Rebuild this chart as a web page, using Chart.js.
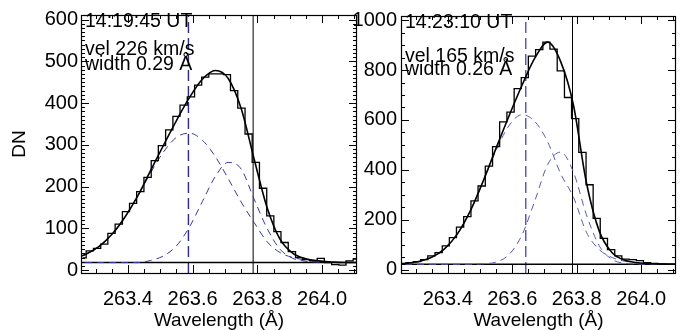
<!DOCTYPE html>
<html>
<head>
<meta charset="utf-8">
<script src="https://cdn.jsdelivr.net/npm/chart.js@4.4.0/dist/chart.umd.min.js"></script>
<style>
  body { margin: 0; background: #fff; }
  #wrap { position: relative; width: 686px; height: 330px; overflow: hidden; }
  canvas { position: absolute; top: 0; }
</style>
</head>
<body>
<div id="wrap">
  <canvas id="panelA" width="362" height="330" style="left:0px"></canvas>
  <canvas id="panelB" width="343" height="330" style="left:343px"></canvas>
</div>
<script>
// x range + labels shared by both panels
const xMin = 263.255, xMax = 264.108;
const xTickVals = [263.4, 263.6, 263.8, 264.0];

// bin centres of the observed spectrum
const binWave = [263.260, 263.282, 263.305, 263.327, 263.349, 263.372, 263.394, 263.416, 263.438, 263.461,
                 263.483, 263.505, 263.528, 263.550, 263.572, 263.595, 263.617, 263.639, 263.661, 263.684,
                 263.706, 263.728, 263.751, 263.773, 263.795, 263.818, 263.840, 263.862, 263.884, 263.907,
                 263.929, 263.951, 263.974, 263.996, 264.018, 264.041, 264.063, 264.085, 264.107];
// wavelengths where the fitted curves are sampled
const curveWave = [263.23, 263.27, 263.31, 263.35, 263.39, 263.43, 263.47, 263.51, 263.55, 263.59, 263.63, 263.67,
                   263.71, 263.75, 263.79, 263.83, 263.87, 263.91, 263.95, 263.99, 264.03, 264.07, 264.11];

// left panel, 14:19:45
const countsA = [29, 46, 52, 62, 88, 110, 140, 160, 188, 222, 262, 298, 336, 368, 395, 415, 443, 462, 470, 470,
                 468, 430, 388, 326, 258, 196, 130, 92, 66, 44, 30, 25, 22, 28, 18, 13, 12, 22, 26];
const fitA   = [27, 38, 56, 85, 126, 177, 238, 299, 358, 413, 457, 478, 459, 387, 266, 150, 74, 40, 27, 22, 19, 18, 18];
const comp1A = [27, 38, 56, 85, 126, 177, 233, 283, 318, 328, 311, 272, 219, 163, 114, 68, 42, 30, 24, 21, 19, 18, 18];
const comp2A = [18, 18, 18, 18, 18, 18, 23, 34, 58, 103, 164, 224, 258, 242, 170, 100, 50, 28, 21, 19, 18, 18, 18];
const levelA = 18;
const shiftA = 263.587;
const yTicksA = [0, 100, 200, 300, 400, 500, 600];
const notesA = ['14:19:45 UT', 'vel 226 km/s', 'width 0.29 Å'];

// right panel, 14:23:10
const countsB = [24, 28, 32, 40, 55, 68, 95, 128, 170, 212, 275, 335, 415, 493, 592, 631, 726, 770, 856, 882,
                 912, 884, 797, 690, 605, 470, 340, 205, 125, 80, 55, 42, 40, 36, 28, 25, 22, 21, 21];
const fitB   = [22, 25, 32, 49, 83, 143, 235, 355, 487, 616, 738, 848, 912, 835, 659, 349, 154, 67, 37, 27, 23, 22, 21];
const comp1B = [22, 25, 32, 49, 83, 143, 235, 353, 478, 577, 621, 594, 512, 385, 290, 150, 80, 48, 33, 26, 23, 22, 21];
const comp2B = [21, 21, 21, 21, 21, 21, 21, 23, 30, 60, 138, 275, 421, 471, 390, 220, 95, 40, 25, 22, 21, 21, 21];
const levelB = 21;
const shiftB = 263.642;
const yTicksB = [0, 200, 400, 600, 800, 1000];
const notesB = ['14:23:10 UT', 'vel 165 km/s', 'width 0.26 Å'];

const restWave = 263.787;

const fontFam = '"Liberation Sans", Arial, sans-serif';

function pts(xs, ys) {
    return xs.map((x, i) => ({x: x, y: ys[i]}));
}

// box + inward ticks on all four sides, and the text in the upper left
const boxPlugin = {
    id: 'box',
    afterDraw(chart, args, o) {
        const ctx = chart.ctx, a = chart.chartArea;
        const sx = chart.scales.x, sy = chart.scales.y;
        ctx.save();
        ctx.strokeStyle = '#000';
        ctx.lineWidth = 1;
        ctx.beginPath();
        // x ticks, minor every 0.05
        for (let k = Math.ceil(sx.min / 0.05 - 1e-6); k * 0.05 <= sx.max + 1e-9; k++) {
            const v = k * 0.05;
            const px = Math.round(sx.getPixelForValue(v)) + 0.5;
            const major = Math.abs(v * 5 - Math.round(v * 5)) < 1e-6;
            const len = major ? 8 : 4;
            ctx.moveTo(px, a.bottom); ctx.lineTo(px, a.bottom - len);
            ctx.moveTo(px, a.top); ctx.lineTo(px, a.top + len);
        }
        // y ticks
        for (let k = Math.ceil(sy.min / o.yMinor); k * o.yMinor <= sy.max; k++) {
            const v = k * o.yMinor;
            const py = Math.round(sy.getPixelForValue(v)) + 0.5;
            const len = (v % o.yMajor === 0) ? 8 : 4;
            ctx.moveTo(a.left, py); ctx.lineTo(a.left + len, py);
            ctx.moveTo(a.right, py); ctx.lineTo(a.right - len, py);
        }
        ctx.stroke();
        ctx.lineWidth = 1.2;
        ctx.strokeRect(a.left + 0.5, a.top + 0.5, a.right - a.left - 1, a.bottom - a.top);

        ctx.fillStyle = '#000';
        ctx.font = '19.5px ' + fontFam;
        ctx.textBaseline = 'middle';
        o.notes.forEach((t, i) => ctx.fillText(t, a.left + 4, o.noteY[i]));
        ctx.restore();
    }
};

function makePanel(id, c) {
    const ctx = document.getElementById(id).getContext('2d');
    const tickFont = {family: fontFam, size: 20};
    const titleFont = {family: fontFam, size: 19};

    new Chart(ctx, {
        type: 'line',
        plugins: [boxPlugin],
        data: {
            datasets: [
                {   // observed spectrum
                    data: pts(binWave, c.counts),
                    stepped: 'middle',
                    borderColor: '#000',
                    borderWidth: 1.3,
                    pointRadius: 0
                },
                {   // total fit
                    data: pts(curveWave, c.fit),
                    cubicInterpolationMode: 'monotone',
                    borderColor: '#000',
                    borderWidth: 1.6,
                    pointRadius: 0
                },
                {
                    data: pts(curveWave, c.comp1),
                    cubicInterpolationMode: 'monotone',
                    borderColor: c.blue,
                    borderWidth: 1,
                    borderDash: [7, 5],
                    pointRadius: 0
                },
                {
                    data: pts(curveWave, c.comp2),
                    cubicInterpolationMode: 'monotone',
                    borderColor: c.blue,
                    borderWidth: 1,
                    borderDash: [7, 5],
                    pointRadius: 0
                },
                {   // background level
                    data: [{x: xMin, y: c.level}, {x: xMax, y: c.level}],
                    borderColor: '#000',
                    borderWidth: 1.5,
                    pointRadius: 0
                },
                {   // shifted component position
                    data: [{x: c.shift, y: c.yMin}, {x: c.shift, y: c.yMax}],
                    borderColor: c.vblue,
                    borderWidth: 1.4,
                    borderDash: [11, 5],
                    pointRadius: 0
                },
                {   // rest wavelength
                    data: [{x: restWave, y: c.yMin}, {x: restWave, y: c.yMax}],
                    borderColor: '#000',
                    borderWidth: 1,
                    pointRadius: 0
                }
            ]
        },
        options: {
            responsive: false,
            animation: false,
            layout: {padding: {top: 13, right: c.padRight, left: 0, bottom: 0}},
            plugins: {
                legend: {display: false},
                tooltip: {enabled: false},
                box: {notes: c.notes, noteY: c.noteY, yMinor: c.yMinor, yMajor: c.yMajor}
            },
            scales: {
                x: {
                    type: 'linear',
                    min: xMin,
                    max: xMax,
                    grid: {display: false, drawTicks: false},
                    border: {display: false},
                    afterBuildTicks: s => { s.ticks = xTickVals.map(v => ({value: v})); },
                    afterFit: s => { s.height = 57; },
                    ticks: {
                        autoSkip: false, maxRotation: 0, padding: 14, color: '#000', font: tickFont,
                        callback: v => v.toFixed(1)
                    },
                    title: {
                        display: true, text: 'Wavelength (Å)', color: '#000', font: titleFont,
                        padding: {top: 0, bottom: -2}
                    }
                },
                y: {
                    type: 'linear',
                    min: c.yMin,
                    max: c.yMax,
                    grid: {display: false, drawTicks: false},
                    border: {display: false},
                    afterBuildTicks: s => { s.ticks = c.yTicks.map(v => ({value: v})); },
                    afterFit: s => { s.width = c.axisW; },
                    ticks: {
                        autoSkip: false, padding: c.labelPad, color: '#000', font: tickFont,
                        callback: v => String(v)
                    },
                    title: {
                        display: c.yTitle !== '', text: c.yTitle, color: '#000', font: titleFont,
                        padding: {top: 8, bottom: 0}
                    }
                }
            }
        }
    });
}

makePanel('panelA', {
    counts: countsA, fit: fitA, comp1: comp1A, comp2: comp2A, level: levelA, shift: shiftA,
    yMin: -7, yMax: 611, yTicks: yTicksA, yMinor: 10, yMajor: 100,
    notes: notesA, noteY: [22, 50, 65], blue: '#3838a8', vblue: '#2a2a9e',
    axisW: 81, padRight: 5, labelPad: 3, yTitle: 'DN'
});

makePanel('panelB', {
    counts: countsB, fit: fitB, comp1: comp1B, comp2: comp2B, level: levelB, shift: shiftB,
    yMin: -14, yMax: 1017, yTicks: yTicksB, yMinor: 50, yMajor: 200,
    notes: notesB, noteY: [23, 57, 70], blue: '#5a5abd', vblue: '#5050b8',
    axisW: 58, padRight: 10, labelPad: 4, yTitle: ''
});
</script>
</body>
</html>
